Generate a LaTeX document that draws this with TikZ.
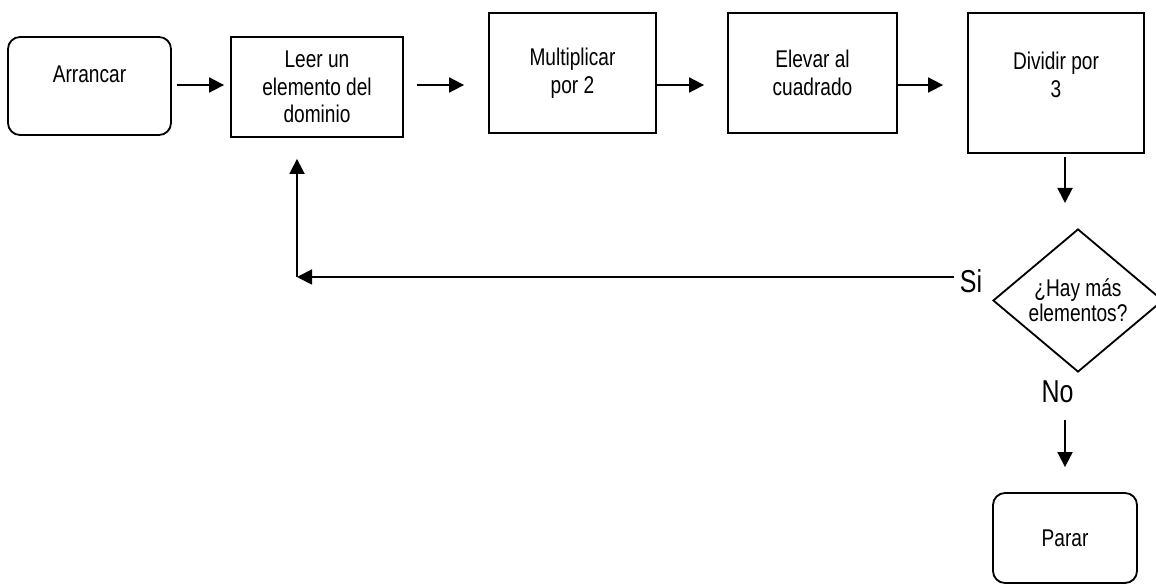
\documentclass[tikz,border=0pt]{standalone}
\usepackage{fontspec}
\setmainfont{Liberation Sans}[FakeStretch=0.79]
\usetikzlibrary{arrows.meta, shapes.geometric}

\begin{document}
\begin{tikzpicture}[>={Triangle[length=3.75mm, width=3.75mm]}, line width=1.3pt,
    font=\fontsize{17.2}{19.6}\selectfont,
    proc/.style={draw, align=center, inner sep=0pt},
    term/.style={draw, rounded corners=3mm, align=center},
    big/.style={font=\fontsize{22.5}{26}\selectfont}]
  \useasboundingbox (0,0) rectangle (28.9,14.625);
  \node[term, minimum width=4.075cm, minimum height=2.45cm] (arrancar) at (2.2375,12.475) {};
  \node (arrancarT) at (2.2375,12.7625) {Arrancar};
  \node[proc, minimum width=4.3cm, minimum height=2.5cm] (leer) at (7.925,12.45) {Leer un\\elemento del\\dominio};
  \node[proc, minimum width=4.175cm, minimum height=3cm] (mult) at (14.3125,12.8) {Multiplicar\\por 2};
  \node[proc, minimum width=4.225cm, minimum height=3cm] (elevar) at (20.3125,12.8) {Elevar al\\cuadrado};
  \node[proc, minimum width=4.4cm, minimum height=3.5cm] (dividir) at (26.4,12.55) {};
  \node[align=center] (dividirT) at (26.4,12.75) {Dividir por\\3};
  \node[draw, diamond, aspect=1.19, minimum width=4.25cm, minimum height=3.575cm, align=center,
    inner sep=0pt, font=\fontsize{17.2}{17.5}\selectfont] (hay) at (26.95,7.1125) {¿Hay más\\elementos?};
  \node[big] (si) at (24.275,7.5875) {Si};
  \node[big] (no) at (26.4375,4.8375) {No};
  \node[term, minimum width=3.6cm, minimum height=2.25cm] (parar) at (26.625,1.175) {Parar};

  \coordinate (row) at (0,12.5);
  \coordinate (divOut) at (26.625,9.55);
  \coordinate (loopC) at (7.425,7.7);
  \coordinate (noOut) at (26.625,4.125);

  \draw[->, shorten <=1.25mm, shorten >=1.5mm] (arrancar.east |- row) -- (leer.west |- row);
  \draw[->, shorten <=3.25mm, shorten >=6mm] (leer.east |- row) -- (mult.west |- row);
  \draw[->, shorten >=5.75mm] (mult.east |- row) -- (elevar.west |- row);
  \draw[->, shorten >=6mm] (elevar.east |- row) -- (dividir.west |- row);
  \draw[->, shorten <=0.75mm] (dividir.south -| divOut) -- (divOut);
  \draw[->] (si.west |- loopC) -- (loopC);
  \draw[->, shorten >=5.25mm] (loopC) -- (loopC |- leer.south);
  \draw[->, shorten >=6.25mm] (noOut) -- (parar.north);
\end{tikzpicture}
\end{document}
